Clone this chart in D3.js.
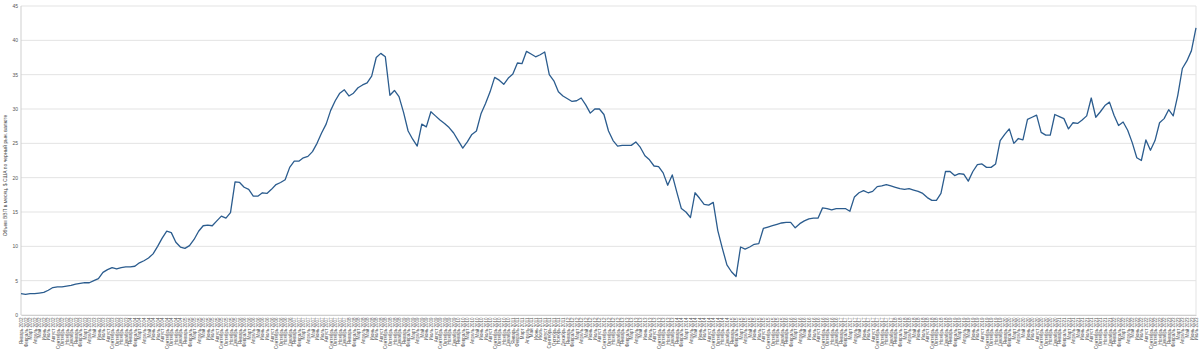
<!DOCTYPE html>
<html>
  <head>
		<meta charset="utf-8">
		<title>chart</title>
		<script src="https://d3js.org/d3.v7.min.js"></script>
		<style>
			body { margin: 0; background: #fff; }
			svg { display: block; font-family: "Liberation Sans", Arial, sans-serif; }
		</style>
	</head>
	<body>
		<svg width="1200" height="350"></svg>
		<script>
			// data, one value per month from Jan 2002
			var monthNames = ["Январь", "Февраль", "Март", "Апрель", "Май", "Июнь", "Июль", "Август", "Сентябрь", "Октябрь", "Ноябрь", "Декабрь"];
			var startYear = 2002;
			var values = [
				3.1, 3.0, 3.1, 3.1, 3.2, 3.3, 3.6, 4.0, 4.1, 4.1, 4.2, 4.3,
				4.5, 4.6, 4.7, 4.7, 5.0, 5.3, 6.2, 6.6, 6.9, 6.7, 6.9, 7.0,
				7.0, 7.1, 7.6, 7.9, 8.3, 8.9, 10.0, 11.2, 12.2, 12.0, 10.6, 9.9,
				9.7, 10.1, 11.0, 12.2, 13.0, 13.1, 13.0, 13.7, 14.4, 14.1, 14.9, 19.4,
				19.3, 18.6, 18.3, 17.3, 17.3, 17.8, 17.7, 18.3, 19.0, 19.3, 19.7, 21.5,
				22.4, 22.4, 22.9, 23.1, 23.8, 25.0, 26.5, 27.8, 29.8, 31.2, 32.3, 32.8,
				31.9, 32.3, 33.1, 33.5, 33.8, 34.8, 37.5, 38.1, 37.6, 32.0, 32.7, 31.8,
				29.5, 26.8, 25.6, 24.6, 27.8, 27.4, 29.6, 29.0, 28.4, 27.9, 27.3, 26.5,
				25.4, 24.3, 25.2, 26.3, 26.8, 29.3, 30.8, 32.5, 34.6, 34.2, 33.6, 34.5,
				35.1, 36.7, 36.6, 38.4, 38.0, 37.6, 37.9, 38.3, 35.0, 34.1, 32.5, 31.9,
				31.5, 31.1, 31.2, 31.6, 30.6, 29.4, 30.0, 30.0, 29.2, 26.8, 25.4, 24.6,
				24.7, 24.7, 24.7, 25.2, 24.4, 23.2, 22.6, 21.7, 21.6, 20.7, 18.9, 20.4,
				17.9, 15.5, 15.0, 14.2, 17.8, 17.0, 16.1, 16.0, 16.4, 12.3, 9.7, 7.3,
				6.3, 5.6, 9.9, 9.6, 9.9, 10.3, 10.4, 12.6, 12.8, 13.0, 13.2, 13.4,
				13.5, 13.5, 12.7, 13.3, 13.7, 14.0, 14.1, 14.1, 15.6, 15.5, 15.3, 15.5,
				15.5, 15.5, 15.1, 17.2, 17.8, 18.1, 17.8, 18.0, 18.7, 18.8, 19.0, 18.8,
				18.6, 18.4, 18.3, 18.4, 18.2, 18.0, 17.7, 17.1, 16.7, 16.7, 17.7, 20.9,
				20.9, 20.3, 20.6, 20.5, 19.5, 20.9, 21.9, 22.0, 21.5, 21.5, 22.0, 25.4,
				26.3, 27.1, 25.0, 25.7, 25.5, 28.5, 28.8, 29.1, 26.6, 26.2, 26.2, 29.2,
				28.9, 28.6, 27.1, 28.0, 27.9, 28.4, 29.0, 31.6, 28.8, 29.6, 30.5, 31.0,
				29.1, 27.6, 28.1, 26.9, 25.1, 22.9, 22.5, 25.5, 24.0, 25.4, 28.0, 28.6,
				29.9, 29.0, 32.0, 35.9, 37.0, 38.5, 41.8
			];
			var yTicks = [0, 5, 10, 15, 20, 25, 30, 35, 40, 45];
			var yTitle = "Объем ВВП в месяц, $ США по черный рын. валюте";

			var labels = values.map(function(v, i) {
				return monthNames[i % 12] + " " + (startYear + Math.floor(i / 12));
			});

			var svg = d3.select("svg");
			var margin = {top: 6, right: 4, bottom: 35, left: 21};
			var w = 1200 - margin.left - margin.right;
			var h = 350 - margin.top - margin.bottom;

			var plot = svg.append("g").attr("transform", "translate(" + margin.left + "," + margin.top + ")");

			// scales
			var xScale = d3.scalePoint().domain(labels).range([0, w]);
			var yScale = d3.scaleLinear().domain([0, 45]).range([h, 0]);

			// grid
			plot.append("g").selectAll("line").data(yTicks).enter().append("line")
				.attr("x1", 0).attr("x2", w)
				.attr("y1", function(d) { return yScale(d); })
				.attr("y2", function(d) { return yScale(d); })
				.attr("stroke", "#e3e3e3").attr("stroke-width", 1);

			// right border + left axis line
			plot.append("line").attr("x1", w).attr("x2", w).attr("y1", 0).attr("y2", h)
				.attr("stroke", "#e3e3e3");
			plot.append("line").attr("x1", 0).attr("x2", 0).attr("y1", 0).attr("y2", h)
				.attr("stroke", "#cfcfcf");

			// y axis
			var yAxis = d3.axisLeft(yScale).tickValues(yTicks).tickSize(0).tickPadding(3);
			var gy = plot.append("g").call(yAxis);
			gy.select(".domain").remove();
			gy.selectAll("text").attr("font-size", 5).attr("fill", "#555");

			// x axis, month labels turned upright
			var xAxis = d3.axisBottom(xScale).tickSize(0).tickPadding(3);
			var gx = plot.append("g").attr("transform", "translate(0," + h + ")").call(xAxis);
			gx.select(".domain").attr("stroke", "#cfcfcf");
			gx.selectAll("text")
				.attr("font-size", 4.5).attr("fill", "#555")
				.attr("text-anchor", "end")
				.attr("dy", "0.35em")
				.attr("transform", "rotate(-90)")
				.attr("x", -2.5).attr("y", 0);

			// y title
			svg.append("text")
				.attr("transform", "translate(7," + (margin.top + h / 2 + 15) + ") rotate(-90)")
				.attr("text-anchor", "middle")
				.attr("font-size", 5).attr("fill", "#444")
				.text(yTitle);

			// line
			var line = d3.line()
				.x(function(d, i) { return xScale(labels[i]); })
				.y(function(d) { return yScale(d); });
			plot.append("path").datum(values)
				.attr("d", line)
				.attr("fill", "none")
				.attr("stroke", "#2b5c8e")
				.attr("stroke-width", 1.3)
				.attr("stroke-linejoin", "round");
		</script>
	</body>
</html>
